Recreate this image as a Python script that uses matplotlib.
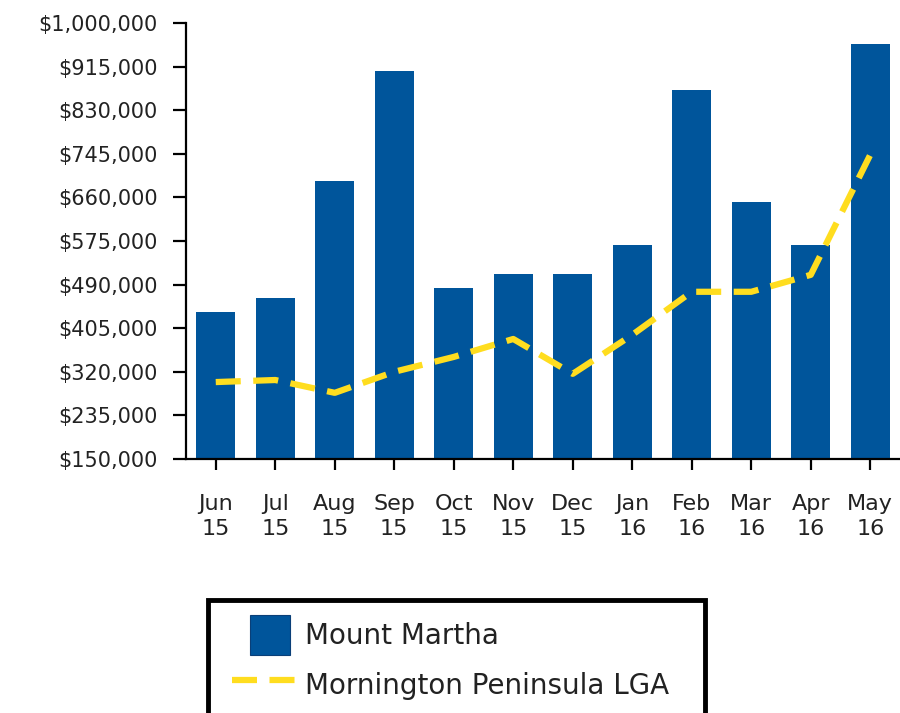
import matplotlib
matplotlib.use("Agg")
import matplotlib.pyplot as plt
from matplotlib.ticker import FuncFormatter
from matplotlib.legend_handler import HandlerPatch, HandlerLine2D
from matplotlib.patches import Rectangle

months = ["Jun\n15", "Jul\n15", "Aug\n15", "Sep\n15", "Oct\n15", "Nov\n15",
          "Dec\n15", "Jan\n16", "Feb\n16", "Mar\n16", "Apr\n16", "May\n16"]
mount_martha = [437000, 464000, 692000, 906000, 483000, 511000,
                511000, 567000, 869000, 651000, 567000, 959000]
mornington = [300000, 304000, 279000, 320000, 349000, 384000,
              316000, 392000, 476000, 476000, 509000, 743000]
yticks = [150000, 235000, 320000, 405000, 490000, 575000,
          660000, 745000, 830000, 915000, 1000000]

blue = "#00559B"
yellow = "#FFDD1F"

fig = plt.figure(figsize=(9, 7.13), dpi=100)
ax = fig.add_axes([186/900, (713-459)/713, 1 - 186/900, (459-23)/713])

x = list(range(len(months)))
bars = ax.bar(x, mount_martha, width=0.66, color=blue, label="Mount Martha", zorder=2)
line, = ax.plot(x, mornington, color=yellow, lw=4.5, linestyle=(0, (4, 2)),
                dash_capstyle="butt", label="Mornington Peninsula LGA", zorder=3)

ax.set_xlim(-0.5, len(months) - 0.5)
ax.set_ylim(150000, 1000000)
ax.set_yticks(yticks)
ax.yaxis.set_major_formatter(FuncFormatter(lambda v, p: "${:,.0f}".format(v)))
ax.set_xticks(x)
ax.set_xticklabels(months, linespacing=1.35)

for s in ["top", "right"]:
    ax.spines[s].set_visible(False)
for s in ["left", "bottom"]:
    ax.spines[s].set_linewidth(1.6)
    ax.spines[s].set_color("black")

ax.tick_params(axis="y", length=9.5, width=1.6, pad=11, labelsize=15, colors="black", labelcolor="#222222")
ax.tick_params(axis="x", length=8, width=1.6, pad=17, labelsize=16, colors="black", labelcolor="#222222")


class SquareHandler(HandlerPatch):
    def create_artists(self, legend, orig_handle, xdescent, ydescent, width, height, fontsize, trans):
        side = height
        r = Rectangle((-xdescent + width - side - 0.17 * side, -ydescent), side, side,
                      facecolor=blue, edgecolor="#0A3F78", lw=0.8, transform=trans)
        return [r]


leg = fig.legend([bars, line], ["Mount Martha", "Mornington Peninsula LGA"],
                 handler_map={bars: SquareHandler(), line: HandlerLine2D(xpad=0.32)},
                 loc="upper left", bbox_to_anchor=(208/900, 0.0, 497/900, 1 - 600/713),
                 mode="expand", frameon=True, fancybox=False, framealpha=1, fontsize=20,
                 handlelength=2.65, handleheight=1.84, borderpad=0.54, labelspacing=0.36,
                 handletextpad=0.3, borderaxespad=0)
leg.get_frame().set_edgecolor("black")
leg.get_frame().set_linewidth(3.5)
for t in leg.get_texts():
    t.set_color("#222222")

fig.savefig("out.png", dpi=100)
